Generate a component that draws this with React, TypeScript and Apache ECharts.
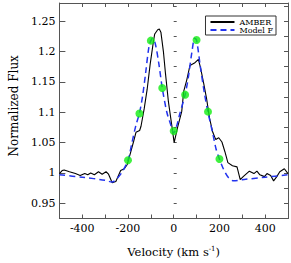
import React, { useEffect, useRef } from "react";
import * as echarts from "echarts";

const amberV = [-500, -488, -479, -456, -430, -409, -389, -376, -363, -347, -329, -313, -296, -285, -269, -253, -232, -216, -203, -189, -176, -165, -149, -143, -129, -116, -103, -89, -83, -70, -63, -56, -45, -36, -23, -9, 2, 17, 35, 44, 57, 71, 91, 108, 117, 131, 144, 157, 171, 184, 197, 211, 224, 237, 257, 277, 291, 304, 331, 351, 364, 377, 397, 408, 424, 437, 451, 464, 484, 500];
const amberF = [0.999, 1.004, 1.005, 1.002, 0.999, 0.996, 0.999, 0.997, 1.0, 0.997, 1.002, 0.998, 1.002, 0.998, 0.984, 0.986, 1.004, 1.007, 1.014, 1.033, 1.051, 1.067, 1.07, 1.077, 1.106, 1.138, 1.179, 1.216, 1.229, 1.236, 1.237, 1.232, 1.2, 1.164, 1.117, 1.08, 1.05, 1.075, 1.101, 1.135, 1.153, 1.177, 1.181, 1.187, 1.174, 1.148, 1.122, 1.09, 1.067, 1.055, 1.058, 1.051, 1.035, 1.017, 1.012, 1.01, 0.989, 0.994, 1.003, 0.999, 1.003, 0.997, 0.994, 0.999, 0.996, 0.987, 0.994, 1.002, 1.007, 0.999];

const modelV = [-500, -400, -300, -270, -250, -225, -200, -183, -165, -150, -136, -123, -109, -100, -92, -80, -65, -50, -30, -15, 0, 15, 25, 50, 65, 80, 92, 100, 117, 135, 150, 171, 185, 200, 217, 240, 262, 300, 400, 500];
const modelF = [0.997, 0.993, 0.988, 0.985, 0.99, 1.002, 1.021, 1.049, 1.079, 1.098, 1.127, 1.164, 1.206, 1.218, 1.222, 1.212, 1.18, 1.14, 1.1, 1.082, 1.066, 1.08, 1.095, 1.129, 1.16, 1.2, 1.222, 1.219, 1.174, 1.13, 1.1, 1.065, 1.04, 1.023, 1.007, 0.992, 0.987, 0.989, 0.993, 0.997];

const dotV = [-200, -150, -100, -50, 0, 50, 100, 150, 200];
const dotF = [1.021, 1.098, 1.218, 1.14, 1.069, 1.129, 1.219, 1.101, 1.023];

const yMajor = [0.95, 1, 1.05, 1.1, 1.15, 1.2, 1.25];

const FONT = "DejaVu Serif";
const AXIS_COLOR = "#555";

export default function App() {
  const ref = useRef<HTMLDivElement>(null);
  useEffect(() => {
    if (!ref.current) return;
    const chart = echarts.init(ref.current, null, { renderer: "svg" });
    const zip = (a: number[], b: number[]) => a.map((v, i) => [v, b[i]]);
    const xBase = {
      type: "value",
      min: -500,
      max: 500,
      interval: 100,
      splitLine: { show: false },
      axisLine: { show: true, onZero: false, lineStyle: { color: AXIS_COLOR, width: 1 } },
      axisTick: { show: true, inside: true, length: 4, lineStyle: { color: AXIS_COLOR } },
    };
    const yBase = {
      type: "value",
      min: 0.925,
      max: 1.28,
      interval: 0.025,
      splitLine: { show: false },
    };
    chart.setOption({
      animation: false,
      textStyle: { fontFamily: FONT },
      grid: { left: 39, right: 2, top: 3, bottom: 35 },
      legend: {
        data: ["AMBER", "Model F"],
        orient: "vertical",
        right: 15,
        top: 16,
        itemGap: 0,
        itemWidth: 24,
        itemHeight: 8,
        padding: [2, 3, 1, 4],
        borderColor: "#333",
        borderWidth: 1,
        backgroundColor: "#fff",
        itemStyle: { opacity: 0 },
        textStyle: { fontFamily: FONT, fontSize: 8, color: "#000" },
      },
      xAxis: [
        {
          ...xBase,
          position: "bottom",
          name: "Velocity (km s{sup|-1})",
          nameLocation: "middle",
          nameGap: 27,
          nameTextStyle: {
            fontFamily: FONT,
            fontSize: 11.5,
            color: "#000",
            rich: {
              sup: { fontFamily: FONT, fontSize: 7, color: "#000", verticalAlign: "top", padding: [0, 0, 6, 0] },
            },
          },
          axisLabel: {
            margin: 4,
            fontFamily: FONT,
            fontSize: 11,
            color: "#000",
            formatter: (v: number) => (Math.round(v) % 200 === 0 ? String(Math.round(v)) : ""),
          },
        },
        {
          ...xBase,
          position: "top",
          axisLabel: { show: false },
        },
      ],
      yAxis: [
        {
          ...yBase,
          position: "left",
          name: "Normalized Flux",
          nameLocation: "middle",
          nameGap: 26,
          nameTextStyle: { fontFamily: FONT, fontSize: 12, color: "#000", padding: [0, 0, 0, 10] },
          axisLine: { show: true, onZero: false, lineStyle: { color: AXIS_COLOR, width: 1 } },
          axisTick: { show: true, inside: true, length: 6, customValues: yMajor, lineStyle: { color: AXIS_COLOR } },
          axisLabel: {
            margin: 4,
            fontFamily: FONT,
            fontSize: 11,
            color: "#000",
            formatter: (v: number) => {
              const k = v * 20;
              return Math.abs(k - Math.round(k)) < 1e-6 ? String(parseFloat(v.toFixed(3))) : "";
            },
          },
        },
        {
          ...yBase,
          position: "left",
          axisLine: { show: false },
          axisTick: { show: true, inside: true, length: 3, lineStyle: { color: AXIS_COLOR } },
          axisLabel: { show: false },
        },
        {
          ...yBase,
          position: "right",
          axisLine: { show: true, onZero: false, lineStyle: { color: AXIS_COLOR, width: 1 } },
          axisTick: { show: true, inside: true, length: 4, lineStyle: { color: AXIS_COLOR } },
          axisLabel: { show: false },
        },
      ],
      series: [
        {
          name: "AMBER",
          type: "line",
          data: zip(amberV, amberF),
          symbol: "none",
          lineStyle: { color: "#000", width: 1.1 },
          itemStyle: { color: "#000" },
          z: 2,
        },
        {
          name: "Model F",
          type: "line",
          data: zip(modelV, modelF),
          symbol: "none",
          smooth: 0.3,
          lineStyle: { color: "#2233ee", width: 1.5, type: [6, 4] },
          itemStyle: { color: "#2233ee" },
          z: 3,
        },
        {
          name: "points",
          type: "scatter",
          data: zip(dotV, dotF),
          symbol: "circle",
          symbolSize: 8,
          itemStyle: { color: "#11ee11" },
          z: 4,
        },
      ],
    });
    return () => chart.dispose();
  }, []);
  return <div ref={ref} style={{ position: "absolute", left: 0, top: 0, width: 291, height: 263 }} />;
}
